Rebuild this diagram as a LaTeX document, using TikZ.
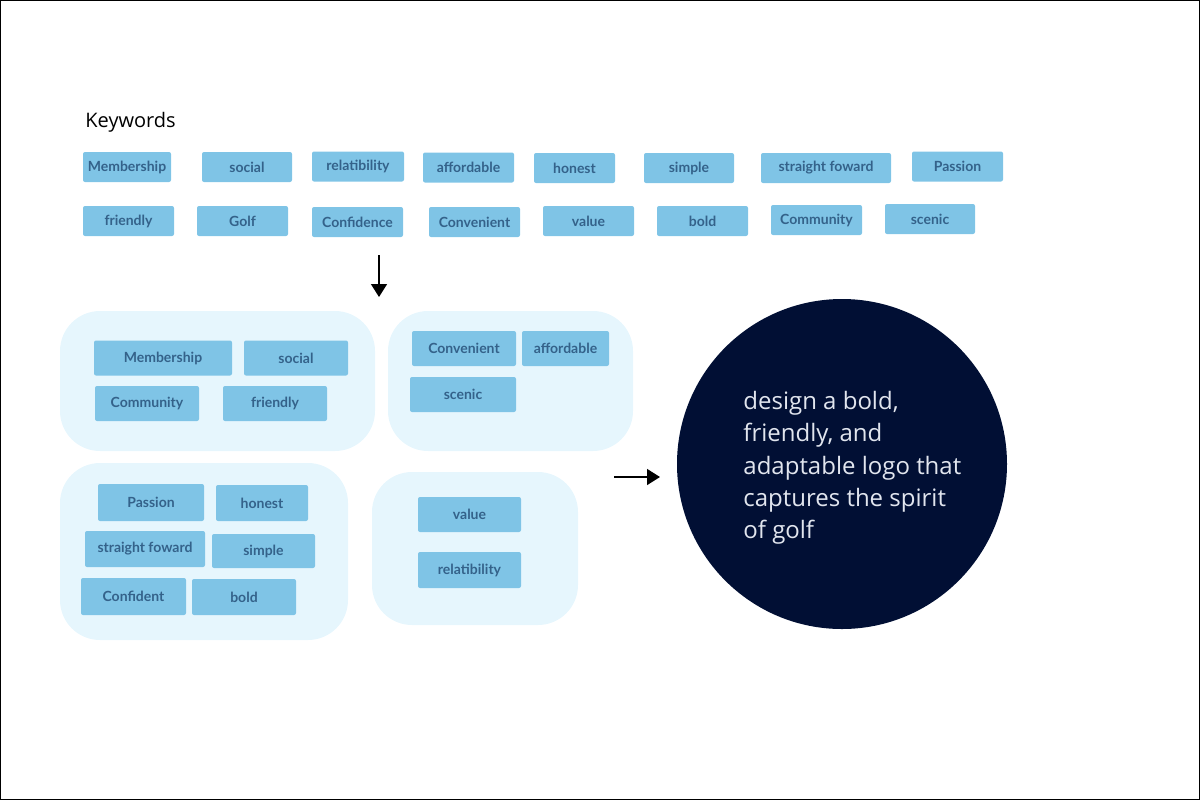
\documentclass[tikz,border=0pt]{standalone}
\usepackage{fontspec}
\setmainfont{Open Sans}
\newfontfamily\chipfont{Lato}
\usetikzlibrary{arrows.meta}
\definecolor{chipblue}{RGB}{127,196,230}
\definecolor{chiptext}{RGB}{52,98,138}
\definecolor{groupblue}{RGB}{230,246,253}
\definecolor{navy}{RGB}{1,15,52}
\definecolor{softwhite}{RGB}{225,229,238}
\begin{document}
\begin{tikzpicture}[x=0.5pt,y=-0.5pt,
  chip/.style={fill=chipblue,rounded corners=1pt,inner sep=0pt,minimum width=45.5pt,minimum height=15pt,
    text=chiptext,font=\chipfont\bfseries\fontsize{7}{8}\selectfont},
  tag/.style={chip,minimum height=17.5pt},
  group/.style={fill=groupblue,rounded corners=20pt,inner sep=0pt},
  flow/.style={draw,line width=0.75pt,-{Triangle[length=6.5pt,width=8pt]}}]
\useasboundingbox (0,0) rectangle (1200,800);
\draw[line width=0.5pt] (0.5,0.5) rectangle (1199.5,799.5);

\node[anchor=base west,inner sep=0pt,font=\fontsize{10}{12}\selectfont] (kw) at (85,127) {Keywords};

% keywords
\node[chip,minimum width=44pt] (k1) at (127,167) {Membership};
\node[chip,minimum width=45pt] (k2) at (247,167) {social};
\node[chip,minimum width=46pt] (k3) at (358,166.5) {relatibility};
\node[chip] (k4) at (468.5,167.5) {affordable};
\node[chip,minimum width=40.5pt] (k5) at (574.5,168) {honest};
\node[chip,minimum width=45pt] (k6) at (689,168) {simple};
\node[chip,minimum width=65pt] (k7) at (826,168) {straight foward};
\node[chip] (k8) at (957.5,166.5) {Passion};
\node[chip] (k9) at (128.5,221) {friendly};
\node[chip] (k10) at (242.5,221) {Golf};
\node[chip] (k11) at (357.5,222) {Confidence};
\node[chip] (k12) at (474.5,222) {Convenient};
\node[chip] (k13) at (588.5,221) {value};
\node[chip] (k14) at (702.5,221) {bold};
\node[chip] (k15) at (816.5,220) {Community};
\node[chip,minimum width=45pt] (k16) at (930,219) {scenic};

\coordinate (down1) at (379,255);
\coordinate (down2) at (379,297);
\path[flow] (down1) -- (down2);

% groups
\node[group,minimum width=157.5pt,minimum height=70pt] (g1) at (217.5,381) {};
\node[group,minimum width=122.5pt,minimum height=70pt] (g2) at (510.5,381) {};
\node[group,minimum width=144pt,minimum height=88.5pt] (g3) at (204,551.5) {};
\node[group,minimum width=103pt,minimum height=76.5pt] (g4) at (475,548.5) {};

\node[tag,minimum width=69pt] (a1) at (163,358) {Membership};
\node[tag,minimum width=52pt] (a2) at (296,358) {social};
\node[tag,minimum width=52pt] (a3) at (147,403.5) {Community};
\node[tag,minimum width=52pt] (a4) at (275,403.5) {friendly};

\node[tag,minimum width=52pt] (b1) at (464,348.5) {Convenient};
\node[tag,minimum width=43.5pt] (b2) at (565.5,348.5) {affordable};
\node[tag,minimum width=53pt] (b3) at (463,394.5) {scenic};

\node[tag,minimum width=53pt,minimum height=18.5pt] (c1) at (151,502.5) {Passion};
\node[tag,minimum width=46pt,minimum height=18pt] (c2) at (262,503) {honest};
\node[tag,minimum width=60pt,minimum height=18pt] (c3) at (145,549) {straight foward};
\node[tag,minimum width=51.5pt,minimum height=17pt] (c4) at (263.5,551) {simple};
\node[tag,minimum width=52.5pt,minimum height=18.5pt] (c5) at (133.5,596.5) {Confident};
\node[tag,minimum width=52pt,minimum height=18pt] (c6) at (244,597) {bold};

\node[tag,minimum width=51.5pt] (d1) at (469.5,514.5) {value};
\node[tag,minimum width=51.5pt,minimum height=18pt] (d2) at (469.5,570) {relatibility};

\coordinate (right1) at (614,477);
\coordinate (right2) at (660,477);
\path[flow] (right1) -- (right2);

% goal
\node[circle,fill=navy,minimum size=165pt,inner sep=0pt] (goal) at (842,464) {};
\node[anchor=north west,inner sep=0pt,align=left,text=softwhite,
  font=\fontsize{12}{16.1}\selectfont] (aim) at (743,391)
  {design a bold,\\friendly, and\\adaptable logo that\\captures the spirit\\of golf};
\end{tikzpicture}
\end{document}
